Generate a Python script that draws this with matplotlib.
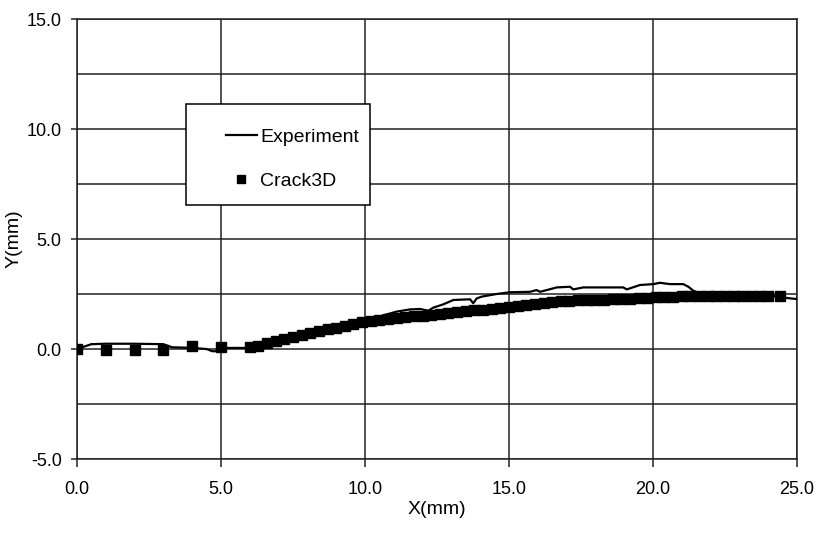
import matplotlib
matplotlib.use("Agg")
import matplotlib.pyplot as plt
from matplotlib.patches import Rectangle
from matplotlib.ticker import MultipleLocator, FormatStrFormatter

plt.rcParams['font.family'] = ['Liberation Sans', 'DejaVu Sans']

# Experiment trace (mm)
exp_x = [0.0, 0.5, 1.0, 2.0, 3.0, 3.3, 4.0, 4.5, 4.7, 4.9, 5.0, 6.0, 6.5, 7.0,
         7.5, 8.0, 8.5, 9.0, 9.5, 10.0, 10.5, 11.1, 11.56, 11.91, 12.2, 12.37,
         12.72, 13.07, 13.65, 13.76, 13.88, 14.05, 14.57, 15.03, 15.73, 15.96,
         16.08, 16.66, 17.12, 17.23, 17.58, 18.97, 19.09, 19.55, 20.01, 20.24,
         20.59, 21.05, 21.23, 21.4, 21.63, 22.0, 23.0, 24.0, 24.64, 25.0]
exp_y = [0.0, 0.22, 0.24, 0.24, 0.22, 0.08, 0.05, 0.0, -0.1, -0.1, 0.05, 0.05,
         0.22, 0.42, 0.55, 0.72, 0.88, 1.02, 1.16, 1.30, 1.48, 1.70, 1.80, 1.82,
         1.74, 1.88, 2.03, 2.23, 2.26, 2.08, 2.30, 2.38, 2.50, 2.58, 2.60, 2.68,
         2.60, 2.80, 2.83, 2.71, 2.80, 2.80, 2.71, 2.91, 2.95, 3.01, 2.95, 2.95,
         2.83, 2.65, 2.52, 2.45, 2.45, 2.44, 2.32, 2.27]

# Crack3D prediction (mm)
sim_x = [0.0, 1.0, 2.0, 3.0, 4.0, 5.0,
         6.0, 6.3, 6.6, 6.9, 7.2, 7.5, 7.8, 8.1, 8.4, 8.7,
         9.0, 9.3, 9.6, 9.9, 10.2, 10.5, 10.8, 11.1, 11.4, 11.7,
         12.0, 12.3, 12.6, 12.9, 13.2, 13.5, 13.8, 14.1, 14.4, 14.7,
         15.0, 15.3, 15.6, 15.9, 16.2, 16.5, 16.8, 17.1, 17.4, 17.7,
         18.0, 18.3, 18.6, 18.9, 19.2, 19.5, 19.8, 20.1, 20.4, 20.7,
         21.0, 21.3, 21.6, 21.9, 22.2, 22.5, 22.8, 23.1, 23.4, 23.7,
         24.0, 24.4]
sim_y = [0.0, -0.03, -0.03, -0.03, 0.12, 0.08,
         0.10, 0.16, 0.28, 0.38, 0.45, 0.53, 0.62, 0.71, 0.80, 0.89,
         0.97, 1.05, 1.13, 1.22, 1.27, 1.32, 1.38, 1.43, 1.46, 1.49,
         1.52, 1.55, 1.60, 1.65, 1.70, 1.74, 1.76, 1.79, 1.82, 1.86,
         1.90, 1.95, 2.00, 2.05, 2.09, 2.13, 2.18, 2.20, 2.21, 2.22,
         2.23, 2.25, 2.27, 2.28, 2.29, 2.30, 2.32, 2.35, 2.37, 2.38,
         2.40, 2.41, 2.42, 2.42, 2.42, 2.42, 2.42, 2.42, 2.42, 2.42,
         2.42, 2.42]

fig = plt.figure(figsize=(8.17, 5.34), dpi=100)
ax = fig.add_axes([0.0942, 0.1404, 0.8813, 0.824])

ax.plot(exp_x, exp_y, color='black', lw=1.6, label='Experiment', zorder=5)
ax.plot(sim_x, sim_y, ls='none', marker='s', ms=6.5, color='black',
        label='Crack3D', zorder=4)

ax.set_xlim(0, 25)
ax.set_ylim(-5, 15)
ax.xaxis.set_major_locator(MultipleLocator(5))
ax.yaxis.set_major_locator(MultipleLocator(5))
ax.yaxis.set_minor_locator(MultipleLocator(2.5))
ax.xaxis.set_major_formatter(FormatStrFormatter('%.1f'))
ax.yaxis.set_major_formatter(FormatStrFormatter('%.1f'))
ax.grid(True, which='both', color='#222222', lw=1.1)
ax.set_axisbelow(True)
ax.tick_params(axis='x', which='major', direction='out', length=6, width=1.1,
               pad=10, labelsize=13, color='#222222')
ax.tick_params(axis='y', which='major', direction='out', length=4, width=1.1,
               pad=7, labelsize=13, color='#222222')
ax.tick_params(which='minor', length=0)
for s in ax.spines.values():
    s.set_color('#222222')
    s.set_linewidth(1.1)

ax.set_xlabel('X(mm)', fontsize=14, labelpad=2)
ax.set_ylabel('Y(mm)', fontsize=14, labelpad=3)

# legend box
ax.add_patch(Rectangle((0.151, 0.577), 0.256, 0.23, transform=ax.transAxes,
                       facecolor='white', edgecolor='black', lw=1.1, zorder=6))
leg = ax.legend(loc='upper left', bbox_to_anchor=(0.194, 0.773), frameon=False,
                fontsize=14, handlelength=1.55, handletextpad=0.2,
                labelspacing=1.35, borderpad=0, markerscale=0.85)
leg.set_zorder(7)

fig.savefig('out.png', dpi=100)
